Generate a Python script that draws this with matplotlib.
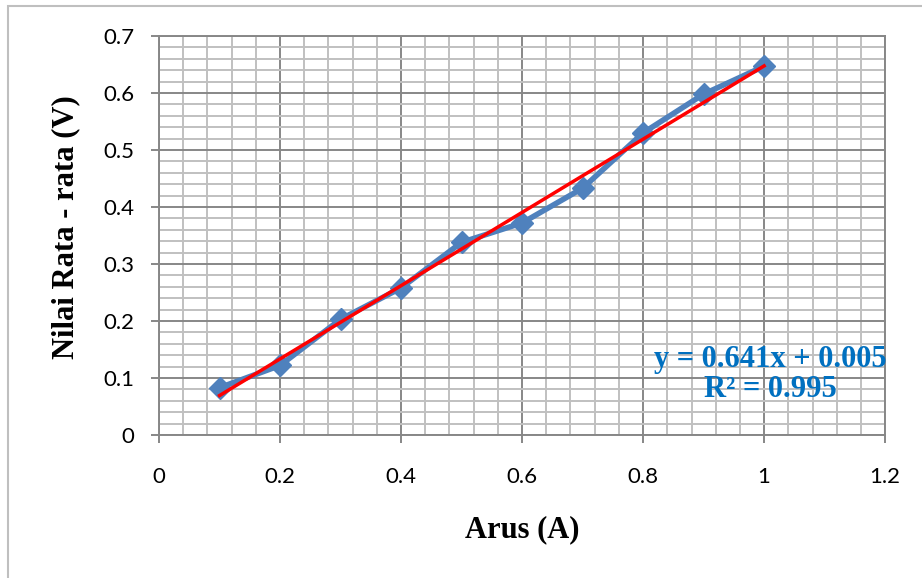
import numpy as np
import matplotlib.pyplot as plt
from matplotlib.ticker import MultipleLocator
from matplotlib.patches import Rectangle

# data arus vs tegangan rata-rata
arus = [0.1, 0.2, 0.3, 0.4, 0.5, 0.6, 0.7, 0.8, 0.9, 1.0]
tegangan = [0.083, 0.122, 0.203, 0.258, 0.338, 0.372, 0.433, 0.530, 0.598, 0.647]
x_ticks = [0, 0.2, 0.4, 0.6, 0.8, 1, 1.2]
x_labels = ['0', '0.2', '0.4', '0.6', '0.8', '1', '1.2']
y_ticks = [0, 0.1, 0.2, 0.3, 0.4, 0.5, 0.6, 0.7]
y_labels = ['0', '0.1', '0.2', '0.3', '0.4', '0.5', '0.6', '0.7']
persamaan = 'y = 0.641x + 0.005\nR² = 0.995'

fig = plt.figure(figsize=(9.22, 5.78), dpi=100)
ax = fig.add_axes([0.1725, 0.2474, 0.7875, 0.6903])

# bingkai luar chart
fig.patches.append(Rectangle((8 / 922, -0.1), 1.2, 1.1 - 6 / 578, transform=fig.transFigure,
                             fill=False, edgecolor='#bfbfbf', linewidth=1.5))

ax.plot(arus, tegangan, color='#4f81bd', lw=4, marker='D', markersize=11,
        markeredgecolor='#4f81bd', zorder=3)

# garis trend linear
m, c = np.polyfit(arus, tegangan, 1)
xf = np.array([arus[0], arus[-1]])
ax.plot(xf, m * xf + c, color='#ff0000', lw=2.5, zorder=4)

ax.set_xlim(0, 1.2)
ax.set_ylim(0, 0.7)
ax.set_xticks(x_ticks)
ax.set_xticklabels(x_labels)
ax.set_yticks(y_ticks)
ax.set_yticklabels(y_labels)
ax.xaxis.set_minor_locator(MultipleLocator(0.04))
ax.yaxis.set_minor_locator(MultipleLocator(0.02))
ax.grid(which='minor', color='#c0c0c0', lw=1.4)
ax.grid(which='major', color='#878787', lw=1.4)
ax.set_axisbelow(True)
ax.tick_params(which='minor', length=0)
ax.tick_params(which='major', length=6, color='#878787', width=1.4, labelsize=16)
ax.tick_params(axis='x', pad=17)
ax.tick_params(axis='y', pad=12)
for lab in ax.get_xticklabels() + ax.get_yticklabels():
    lab.set_family('Lato')
for s in ax.spines.values():
    s.set_color('#878787')
    s.set_linewidth(1.4)

ax.set_xlabel('Arus (A)', fontsize=22, fontweight='bold', family='Liberation Serif', labelpad=20)
ax.set_ylabel('Nilai Rata - rata (V)', fontsize=22, fontweight='bold', family='Liberation Serif',
              va='center')
ax.yaxis.set_label_coords(-0.128, 0.52)

ax.text(1.01, 0.106, persamaan, ha='center', va='center', fontsize=22, fontweight='bold',
        family='Liberation Serif', color='#0070c0', linespacing=1.05)

plt.savefig('out.png', dpi=100)
